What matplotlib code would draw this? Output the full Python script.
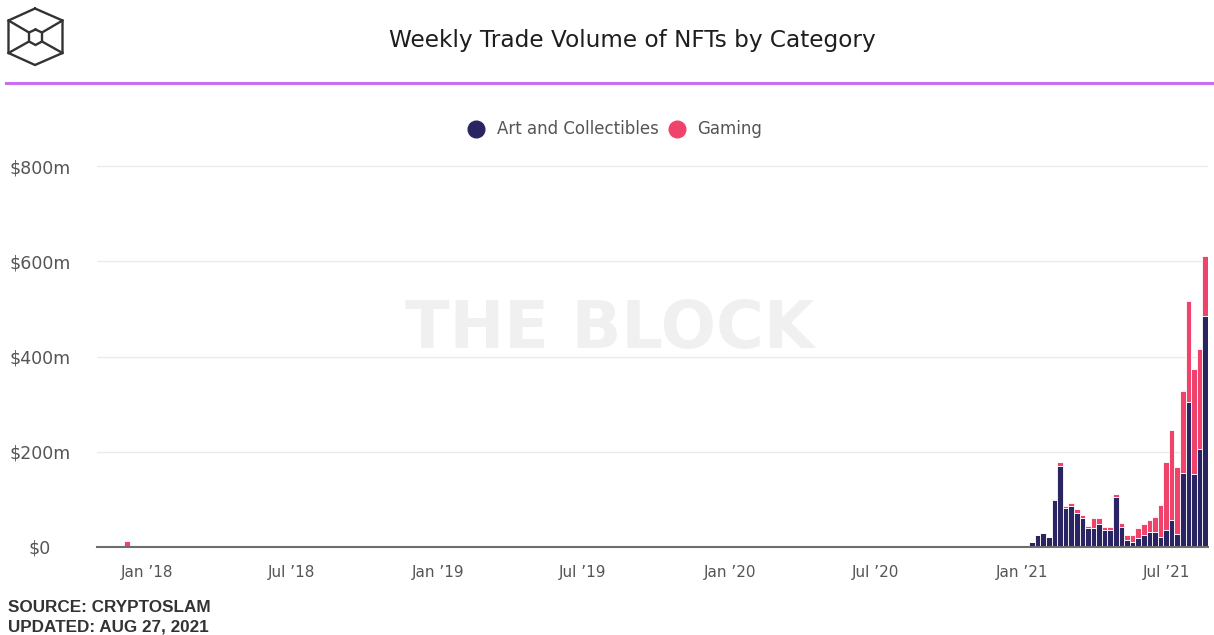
import matplotlib
matplotlib.use('Agg')
import matplotlib.pyplot as plt
import matplotlib.dates as mdates
from matplotlib.lines import Line2D
import pandas as pd

# ---- data (weekly, week starting Sunday), $ millions ----
week_start = [
    '2017-12-03', '2017-12-10',
    '2020-09-13', '2020-09-20',
    '2020-12-27', '2021-01-03', '2021-01-10', '2021-01-17', '2021-01-24',
    '2021-01-31', '2021-02-07', '2021-02-14', '2021-02-21', '2021-02-28',
    '2021-03-07', '2021-03-14', '2021-03-21', '2021-03-28', '2021-04-04',
    '2021-04-11', '2021-04-18', '2021-04-25', '2021-05-02', '2021-05-09',
    '2021-05-16', '2021-05-23', '2021-05-30', '2021-06-06', '2021-06-13',
    '2021-06-20', '2021-06-27', '2021-07-04', '2021-07-11', '2021-07-18',
    '2021-07-25', '2021-08-01', '2021-08-08', '2021-08-15',
]
art_collectibles = [
    0, 0,
    0, 0,
    1, 2, 10, 25, 29,
    22, 98, 170, 81, 86,
    72, 60, 39, 39, 49,
    36, 36, 106, 43, 15,
    11, 18, 25, 32, 32,
    21, 35, 56, 28, 156,
    304, 153, 206, 486,
]
gaming = [
    12, 3,
    3, 3,
    0, 0, 0, 0, 0,
    0, 2, 9, 6, 7,
    7, 7, 5, 21, 11,
    6, 6, 6, 7, 10,
    14, 21, 24, 24, 31,
    67, 144, 190, 139, 172,
    212, 221, 210, 125,
]
y_ticks = [0, 200, 400, 600, 800]
y_tick_labels = ['$0', '$200m', '$400m', '$600m', '$800m']
legend_labels = ['Art and Collectibles', 'Gaming']

NAVY = '#2a2462'
PINK = '#f0436b'

W, H = 1214, 635
fig = plt.figure(figsize=(W / 100, H / 100), dpi=100)
fig.patch.set_facecolor('white')

def fx(px):
    return px / W

def fy(py):
    return 1 - py / H

# axes: x from 97 to 1208 px, y baseline at 547 px, $800m at 166 px
ytop = 820
ax_h = (547 - 166) * ytop / 800
ax = fig.add_axes([fx(97), (H - 547) / H, (1208 - 97) / W, ax_h / H])

dates = pd.to_datetime(week_start)
ax.bar(dates, art_collectibles, width=7, align='edge', color=NAVY,
       edgecolor='white', linewidth=0.6, zorder=3)
ax.bar(dates, gaming, width=7, align='edge', bottom=art_collectibles,
       color=PINK, edgecolor='white', linewidth=0.6, zorder=3)

ax.set_xlim(pd.Timestamp('2017-10-30'), pd.Timestamp('2021-08-22'))
ax.set_ylim(0, ytop)
ax.set_yticks(y_ticks)
ax.set_yticklabels(y_tick_labels)
for lab in ax.get_yticklabels():
    lab.set_horizontalalignment('center')
ax.tick_params(axis='y', length=0, pad=41, labelsize=12.5, labelcolor='#555555')
ax.xaxis.set_major_locator(mdates.MonthLocator(bymonth=[1, 7]))
ax.xaxis.set_major_formatter(mdates.DateFormatter('%b \u2019%y'))
ax.tick_params(axis='x', length=0, pad=13, labelsize=11, labelcolor='#555555')

ax.grid(axis='y', color='#ebebeb', linewidth=1, zorder=0)
ax.set_axisbelow(True)
for s in ['top', 'right', 'left']:
    ax.spines[s].set_visible(False)
ax.spines['bottom'].set_color('#6e6e6e')
ax.spines['bottom'].set_linewidth(1.5)
ax.spines['bottom'].set_zorder(4)

# watermark
fig.text(fx(610), fy(330), 'THE BLOCK', ha='center', va='center',
         fontsize=47, fontweight='bold', color='#f0f0f0', zorder=0)

# title
fig.text(fx(632), fy(40), 'Weekly Trade Volume of NFTs by Category',
         ha='center', va='center', fontsize=16.7, color='#1e1e1e')

# purple rule
fig.add_artist(Line2D([fx(6), 1], [fy(83), fy(83)], color='#c76ff0',
                      linewidth=2.2, transform=fig.transFigure))

# logo (cube in hexagon)
outer = [(35, 8.5), (62.5, 20.5), (62.5, 53), (35, 65), (8.5, 53), (8.5, 20.5), (35, 8.5)]
inner = [(35.5, 29.5), (42, 32.5), (42, 41.5), (35.5, 45), (29, 41.5), (29, 32.5), (35.5, 29.5)]
def poly(pts, lw=1.7):
    fig.add_artist(Line2D([fx(p[0]) for p in pts], [fy(p[1]) for p in pts],
                          color='#333333', linewidth=lw,
                          transform=fig.transFigure, solid_joinstyle='miter'))
poly(outer)
poly(inner)
poly([(8.5, 20.5), (29, 32.5)])
poly([(62.5, 20.5), (42, 32.5)])
poly([(8.5, 53), (29, 41.5)])
poly([(62.5, 53), (42, 41.5)])

# legend (manual)
fig.add_artist(Line2D([fx(475.5)], [fy(129)], marker='o', markersize=12,
                      color=NAVY, linestyle='none', transform=fig.transFigure))
fig.text(fx(497), fy(129), legend_labels[0], ha='left', va='center',
         fontsize=12, color='#555555')
fig.add_artist(Line2D([fx(677.5)], [fy(129)], marker='o', markersize=12,
                      color=PINK, linestyle='none', transform=fig.transFigure))
fig.text(fx(697), fy(129), legend_labels[1], ha='left', va='center',
         fontsize=12, color='#555555')

# footer
fig.text(fx(8), fy(607), 'SOURCE: CRYPTOSLAM', ha='left', va='center',
         fontsize=12.3, fontweight='bold', color='#333333',
         family='Liberation Sans')
fig.text(fx(8), fy(627), 'UPDATED: AUG 27, 2021', ha='left', va='center',
         fontsize=12.3, fontweight='bold', color='#333333',
         family='Liberation Sans')

fig.savefig('out.png', dpi=100, facecolor='white')
